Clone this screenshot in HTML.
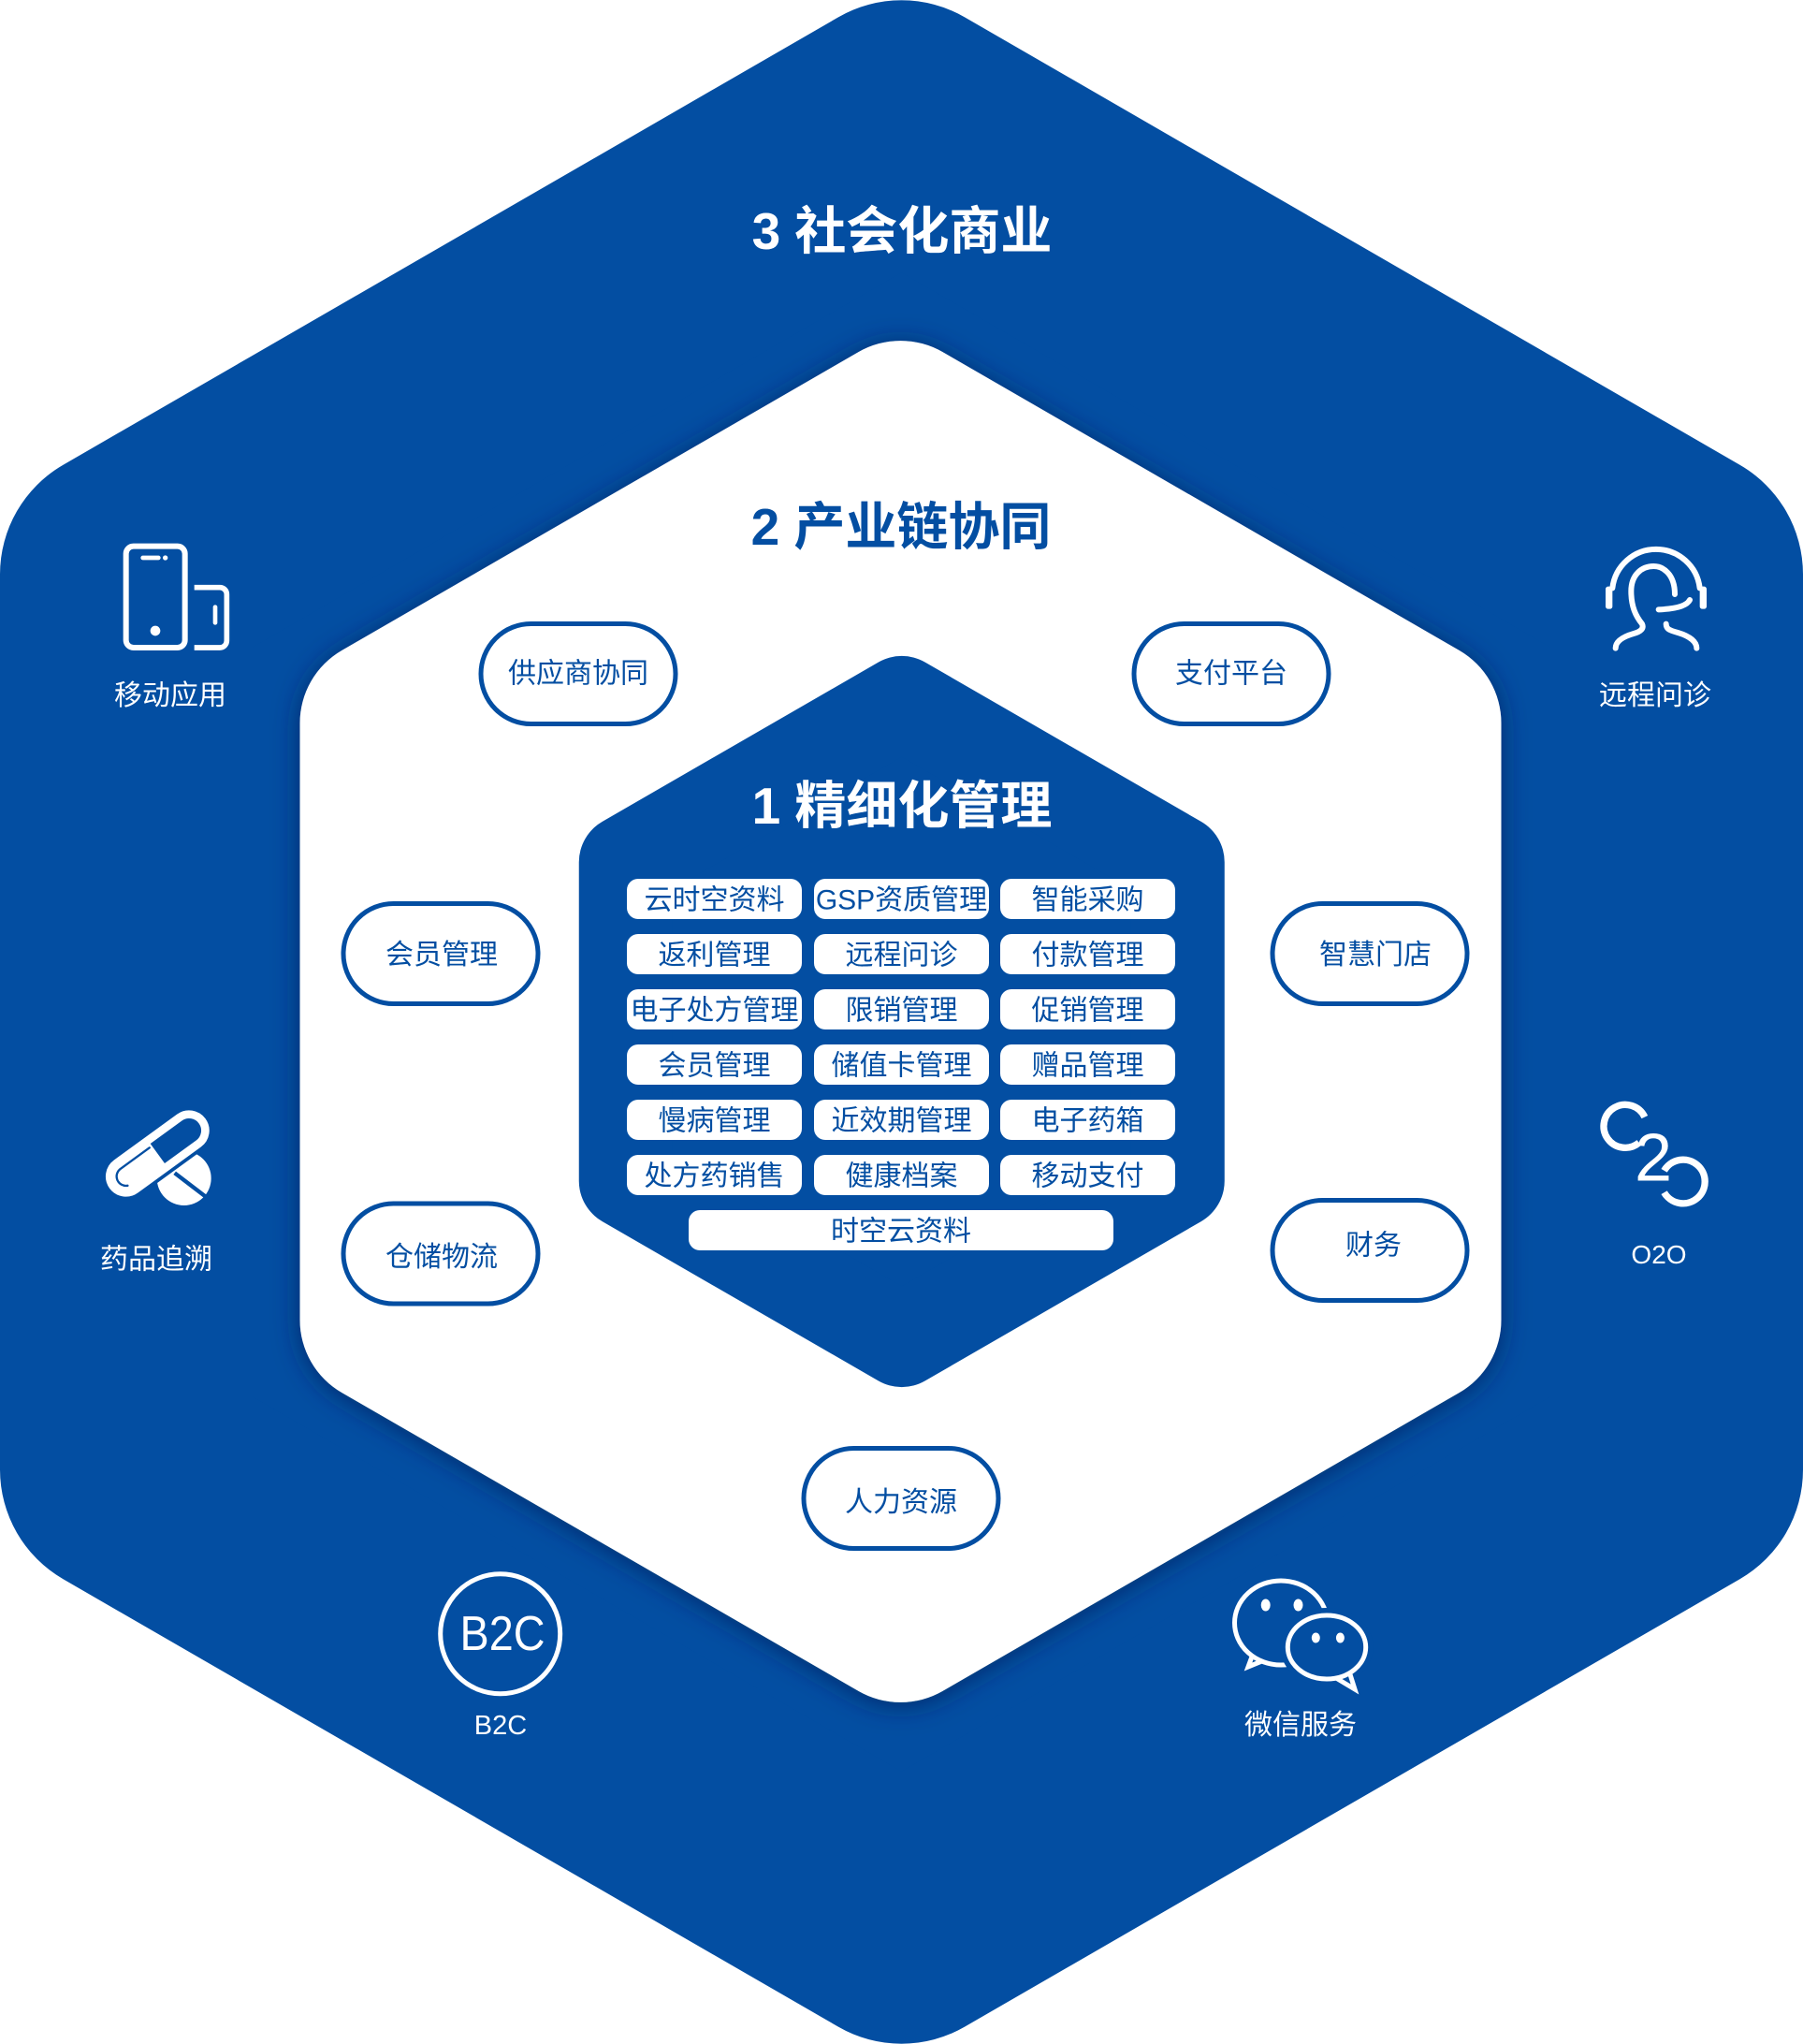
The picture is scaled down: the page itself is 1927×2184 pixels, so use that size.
<!DOCTYPE html>
<html>
<head>
<meta charset="utf-8">
<style>
html,body{margin:0;padding:0;background:#ffffff;}
svg{display:block;}
text{font-family:"Liberation Sans","Noto Sans CJK SC",sans-serif;}
.t30{font-size:30px;}
.bl{fill:#034ea2;}
.wh{fill:#ffffff;}
.ttl{font-size:55px;font-weight:bold;}
</style>
</head>
<body>
<svg width="1927" height="2184" viewBox="0 0 1927 2184" xmlns="http://www.w3.org/2000/svg">
  <defs>
    <filter id="sh" x="-20%" y="-20%" width="140%" height="140%">
      <feDropShadow dx="0" dy="3" stdDeviation="14" flood-color="#00225a" flood-opacity="0.75"/>
    </filter>
  </defs>

  <!-- Outer hexagon -->
  <polygon points="963.5,135.3 1792,613.65 1792,1570.35 963.5,2048.7 135,1570.35 135,613.65"
           fill="#034ea2" stroke="#034ea2" stroke-width="270" stroke-linejoin="round"/>

  <!-- Inner white hexagon -->
  <g filter="url(#sh)">
    <polygon points="962.5,454.1 1514.5,772.8 1514.5,1410.2 962.5,1728.9 410.5,1410.2 410.5,772.8"
             fill="#ffffff" stroke="#ffffff" stroke-width="180" stroke-linejoin="round"/>
  </g>

  <!-- Center blue hexagon -->
  <polygon points="963.75,750.9 1258.75,921.2 1258.75,1261.8 963.75,1432.1 668.75,1261.8 668.75,921.2"
           fill="#034ea2" stroke="#034ea2" stroke-width="100" stroke-linejoin="round"/>

  <!-- Titles -->
  <text x="964" y="266" text-anchor="middle" class="ttl wh">3 社会化商业</text>
  <text x="963" y="582" text-anchor="middle" class="ttl bl">2 产业链协同</text>
  <text x="964" y="880" text-anchor="middle" class="ttl wh">1 精细化管理</text>

  <!-- Grid boxes -->
  <g fill="#ffffff">
    <rect x="670" y="939" width="187" height="43" rx="12"/>
    <rect x="870" y="939" width="187" height="43" rx="12"/>
    <rect x="1069" y="939" width="187" height="43" rx="12"/>
    <rect x="670" y="998" width="187" height="43" rx="12"/>
    <rect x="870" y="998" width="187" height="43" rx="12"/>
    <rect x="1069" y="998" width="187" height="43" rx="12"/>
    <rect x="670" y="1057" width="187" height="43" rx="12"/>
    <rect x="870" y="1057" width="187" height="43" rx="12"/>
    <rect x="1069" y="1057" width="187" height="43" rx="12"/>
    <rect x="670" y="1116" width="187" height="43" rx="12"/>
    <rect x="870" y="1116" width="187" height="43" rx="12"/>
    <rect x="1069" y="1116" width="187" height="43" rx="12"/>
    <rect x="670" y="1175" width="187" height="43" rx="12"/>
    <rect x="870" y="1175" width="187" height="43" rx="12"/>
    <rect x="1069" y="1175" width="187" height="43" rx="12"/>
    <rect x="670" y="1234" width="187" height="43" rx="12"/>
    <rect x="870" y="1234" width="187" height="43" rx="12"/>
    <rect x="1069" y="1234" width="187" height="43" rx="12"/>
    <rect x="736" y="1293" width="454" height="43" rx="12"/>
  </g>
  <g class="t30 bl" text-anchor="middle">
    <text x="763.5" y="971.5" class="t30 bl">云时空资料</text>
    <text x="963.5" y="971.5" class="t30 bl">GSP资质管理</text>
    <text x="1162.5" y="971.5" class="t30 bl">智能采购</text>
    <text x="763.5" y="1030.5" class="t30 bl">返利管理</text>
    <text x="963.5" y="1030.5" class="t30 bl">远程问诊</text>
    <text x="1162.5" y="1030.5" class="t30 bl">付款管理</text>
    <text x="763.5" y="1089.5" class="t30 bl">电子处方管理</text>
    <text x="963.5" y="1089.5" class="t30 bl">限销管理</text>
    <text x="1162.5" y="1089.5" class="t30 bl">促销管理</text>
    <text x="763.5" y="1148.5" class="t30 bl">会员管理</text>
    <text x="963.5" y="1148.5" class="t30 bl">储值卡管理</text>
    <text x="1162.5" y="1148.5" class="t30 bl">赠品管理</text>
    <text x="763.5" y="1207.5" class="t30 bl">慢病管理</text>
    <text x="963.5" y="1207.5" class="t30 bl">近效期管理</text>
    <text x="1162.5" y="1207.5" class="t30 bl">电子药箱</text>
    <text x="763.5" y="1266.5" class="t30 bl">处方药销售</text>
    <text x="963.5" y="1266.5" class="t30 bl">健康档案</text>
    <text x="1162.5" y="1266.5" class="t30 bl">移动支付</text>
    <text x="963" y="1325.5" class="t30 bl">时空云资料</text>
  </g>

  <!-- Pills on white ring -->
  <g fill="#ffffff" stroke="#034ea2" stroke-width="5">
    <rect x="514" y="666.5" width="208" height="107" rx="53.5"/>
    <rect x="1212" y="666.5" width="208" height="107" rx="53.5"/>
    <rect x="367" y="965.5" width="208" height="107" rx="53.5"/>
    <rect x="1360" y="965.5" width="208" height="107" rx="53.5"/>
    <rect x="367" y="1286" width="208" height="107" rx="53.5"/>
    <rect x="1360" y="1282.5" width="208" height="107" rx="53.5"/>
    <rect x="859" y="1547.5" width="208" height="107" rx="53.5"/>
  </g>
  <g text-anchor="middle">
    <text x="618" y="729.5" class="t30 bl">供应商协同</text>
    <text x="1316" y="729.5" class="t30 bl">支付平台</text>
    <text x="472" y="1030" class="t30 bl">会员管理</text>
    <text x="1470" y="1030" class="t30 bl">智慧门店</text>
    <text x="472" y="1353" class="t30 bl">仓储物流</text>
    <text x="1468" y="1340.5" class="t30 bl">财务</text>
    <text x="963" y="1615" class="t30 bl">人力资源</text>
  </g>

  <!-- Phone icon (移动应用) -->
  <g transform="translate(80,540) scale(0.33333)" fill="none" stroke="#ffffff">
    <rect x="164" y="131" width="189" height="325" rx="24" stroke-width="18"/>
    <path d="M218,168 L268,168" stroke-width="14" stroke-linecap="round"/>
    <circle cx="290" cy="168" r="8" fill="#ffffff" stroke="none"/>
    <circle cx="258" cy="402" r="16" fill="#ffffff" stroke="none"/>
    <path d="M383,263 H465 A22,22 0 0 1 487,285 V434 A22,22 0 0 1 465,456 H383" stroke-width="17"/>
    <path d="M450,326 V376" stroke-width="14" stroke-linecap="round"/>
  </g>
  <text x="182" y="753" text-anchor="middle" class="t30 wh">移动应用</text>

  <!-- Headset icon (远程问诊) -->
  <g transform="translate(1680,560) scale(0.33333)" fill="none" stroke="#ffffff" stroke-width="18" stroke-linecap="round">
    <path d="M130,205 A141,141 0 0 1 410,205"/>
    <rect x="108" y="200" width="22" height="72" rx="8" fill="#ffffff" stroke="none"/>
    <rect x="410" y="200" width="22" height="72" rx="8" fill="#ffffff" stroke="none"/>
    <path d="M330,225 C330,160 292,135 262,135 C224,135 190,162 190,215 C190,265 205,295 225,320 C232,335 220,345 198,351 C160,362 140,378 140,398"/>
    <path d="M302,320 C302,338 316,341 340,348 C380,360 400,378 400,398"/>
    <path d="M378,243 C368,263 332,272 278,274"/>
  </g>
  <text x="1769" y="753" text-anchor="middle" class="t30 wh">远程问诊</text>

  <!-- Pill icon (药品追溯) -->
  <g transform="translate(90,1160) scale(0.33333)">
    <circle cx="320" cy="297" r="87" fill="#ffffff"/>
    <path d="M290,280 L400,364" stroke="#034ea2" stroke-width="13"/>
    <g transform="translate(235,217.5) rotate(-36)">
      <rect x="-177" y="-52" width="354" height="104" rx="52" fill="#034ea2" stroke="#034ea2" stroke-width="48"/>
      <rect x="-177" y="-52" width="354" height="104" rx="52" fill="none" stroke="#ffffff" stroke-width="26"/>
      <path d="M0,-52 H-125 A52,52 0 0 0 -125,52 H0 Z" fill="#ffffff"/>
      <path d="M-10,-30 H-125 A30,30 0 0 0 -138,27" fill="none" stroke="#034ea2" stroke-width="7" stroke-linecap="round"/>
    </g>
  </g>
  <text x="167" y="1355.5" text-anchor="middle" class="t30 wh">药品追溯</text>

  <!-- O2O icon -->
  <g transform="translate(1690,1160) scale(0.33333)" fill="none" stroke="#ffffff" stroke-width="22">
    <path d="M203.5,100.8 A69,69 0 1 0 185.4,182.9"/>
    <path d="M265.9,272.5 A70,70 0 1 1 265.9,342.5"/>
  </g>
  <text x="1767" y="1261.7" text-anchor="middle" font-size="72" fill="#ffffff">2</text>
  <text x="1773" y="1350" text-anchor="middle" font-size="28" fill="#ffffff">O2O</text>

  <!-- B2C icon -->
  <circle cx="534.7" cy="1745.8" r="64" fill="none" stroke="#ffffff" stroke-width="5"/>
  <text x="537" y="1763" text-anchor="middle" font-size="52" fill="#ffffff" textLength="91" lengthAdjust="spacingAndGlyphs">B2C</text>
  <text x="535" y="1853" text-anchor="middle" font-size="29" fill="#ffffff">B2C</text>

  <!-- WeChat icon -->
  <g stroke="#ffffff" stroke-width="5" fill="#034ea2" stroke-linejoin="miter">
    <path d="M1341,1762 L1334,1781 L1356,1772"/>
    <ellipse cx="1369" cy="1734" rx="49.5" ry="45"/>
  </g>
  <ellipse cx="1352.7" cy="1715" rx="5" ry="6.5" fill="#ffffff"/>
  <ellipse cx="1387.5" cy="1715" rx="5" ry="6.5" fill="#ffffff"/>
  <ellipse cx="1418" cy="1760" rx="41.7" ry="34" fill="#034ea2" stroke="#034ea2" stroke-width="16"/>
  <g stroke="#ffffff" stroke-width="5" fill="#034ea2" stroke-linejoin="miter">
    <path d="M1442,1786 L1448,1805 L1428,1793"/>
    <ellipse cx="1418" cy="1760" rx="41.7" ry="34"/>
  </g>
  <ellipse cx="1406.3" cy="1750" rx="4.5" ry="5.5" fill="#ffffff"/>
  <ellipse cx="1432.4" cy="1750" rx="4.5" ry="5.5" fill="#ffffff"/>
  <text x="1390" y="1853" text-anchor="middle" class="t30 wh">微信服务</text>
</svg>
</body>
</html>
